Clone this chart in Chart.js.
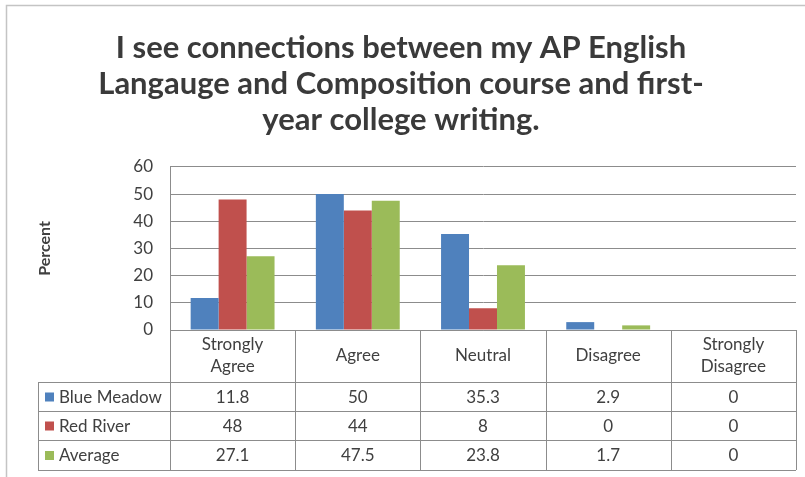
<!DOCTYPE html>
<html>
<head>
<meta charset="utf-8">
<script src="https://cdn.jsdelivr.net/npm/chart.js@4"></script>
<style>
  html, body { margin: 0; padding: 0; background: #fff; }
  #wrap { width: 805px; height: 477px; }
</style>
</head>
<body>
<div id="wrap"><canvas id="chart" width="805" height="477"></canvas></div>
<script>
const categories = [["Strongly", "Agree"], "Agree", "Neutral", "Disagree", ["Strongly", "Disagree"]];
const blueMeadow = [11.8, 50, 35.3, 2.9, 0];
const redRiver = [48, 44, 8, 0, 0];
const average = [27.1, 47.5, 23.8, 1.7, 0];
const seriesNames = ["Blue Meadow", "Red River", "Average"];
const seriesColors = ["#4F81BD", "#C0504D", "#9BBB59"];
const titleLines = [
  "I see connections between my AP English",
  "Langauge and Composition course and first-",
  "year college writing."
];

const fontFamily = "Lato, 'Open Sans', sans-serif";
const textColor = "#404040";
const lineColor = "#8c8c8c";

// draws the frame round the whole picture
const framePlugin = {
  id: "frame",
  beforeDraw(chart) {
    const ctx = chart.ctx;
    ctx.save();
    ctx.strokeStyle = "#c4c4c4";
    ctx.lineWidth = 1.5;
    ctx.beginPath();
    ctx.moveTo(6.5, 477);
    ctx.lineTo(6.5, 5.5);
    ctx.lineTo(805, 5.5);
    ctx.stroke();
    ctx.restore();
  }
};

// data table under the plot, lined up with the x scale
const tablePlugin = {
  id: "dataTable",
  afterDraw(chart) {
    const ctx = chart.ctx;
    const x = chart.scales.x;
    const area = chart.chartArea;
    const step = (area.right - area.left) / categories.length;
    const top = area.bottom;
    const rows = [top, 382, 411, 440, 470];
    const keyLeft = 38;
    const rowData = [blueMeadow, redRiver, average];

    ctx.save();
    ctx.strokeStyle = lineColor;
    ctx.lineWidth = 1;
    ctx.beginPath();
    for (let i = 0; i <= categories.length; i++) {
      const px = Math.round(area.left + i * step) + 0.5;
      ctx.moveTo(px, top);
      ctx.lineTo(px, rows[4]);
    }
    for (let r = 1; r < rows.length; r++) {
      ctx.moveTo(keyLeft, rows[r] + 0.5);
      ctx.lineTo(area.right, rows[r] + 0.5);
    }
    ctx.moveTo(keyLeft + 0.5, rows[1]);
    ctx.lineTo(keyLeft + 0.5, rows[4]);
    ctx.stroke();

    ctx.fillStyle = textColor;
    ctx.font = "17px " + fontFamily;
    ctx.textAlign = "center";
    ctx.textBaseline = "middle";
    categories.forEach((cat, i) => {
      const cx = x.getPixelForValue(i);
      const cy = (rows[0] + rows[1]) / 2;
      if (Array.isArray(cat)) {
        ctx.fillText(cat[0], cx, cy - 11);
        ctx.fillText(cat[1], cx, cy + 11);
      } else {
        ctx.fillText(cat, cx, cy);
      }
    });

    rowData.forEach((vals, r) => {
      const cy = (rows[r + 1] + rows[r + 2]) / 2 + 1;
      vals.forEach((v, i) => {
        ctx.fillStyle = textColor;
        ctx.textAlign = "center";
        ctx.fillText(String(v), x.getPixelForValue(i), cy);
      });
      ctx.fillStyle = seriesColors[r];
      ctx.fillRect(keyLeft + 7, cy - 5, 9, 9);
      ctx.fillStyle = textColor;
      ctx.textAlign = "left";
      ctx.fillText(seriesNames[r], keyLeft + 21, cy);
    });
    ctx.restore();
  }
};

new Chart(document.getElementById("chart"), {
  type: "bar",
  data: {
    labels: categories,
    datasets: [
      { label: seriesNames[0], data: blueMeadow, backgroundColor: seriesColors[0] },
      { label: seriesNames[1], data: redRiver, backgroundColor: seriesColors[1] },
      { label: seriesNames[2], data: average, backgroundColor: seriesColors[2] }
    ]
  },
  options: {
    responsive: false,
    animation: false,
    categoryPercentage: 0.67,
    barPercentage: 1.0,
    layout: { padding: { left: 6, right: 9, top: 0, bottom: 0 } },
    plugins: {
      legend: { display: false },
      tooltip: { enabled: false },
      title: {
        display: true,
        text: titleLines,
        color: "#3a3a3a",
        font: { family: fontFamily, size: 31, weight: "bold", lineHeight: 1.16 },
        padding: { top: 30, bottom: 29 }
      }
    },
    scales: {
      x: {
        ticks: { display: false },
        grid: { display: false },
        border: { color: lineColor },
        afterFit(scale) { scale.height = 147; }
      },
      y: {
        min: 0,
        max: 60,
        ticks: {
          stepSize: 10,
          color: textColor,
          padding: 17,
          font: { family: fontFamily, size: 17 }
        },
        grid: { color: lineColor, drawTicks: false },
        border: { color: lineColor },
        title: {
          display: true,
          text: "Percent",
          color: textColor,
          font: { family: fontFamily, size: 16, weight: "bold" },
          padding: { top: 29 }
        },
        afterFit(scale) { scale.width = 164; }
      }
    }
  },
  plugins: [framePlugin, tablePlugin]
});
</script>
</body>
</html>
